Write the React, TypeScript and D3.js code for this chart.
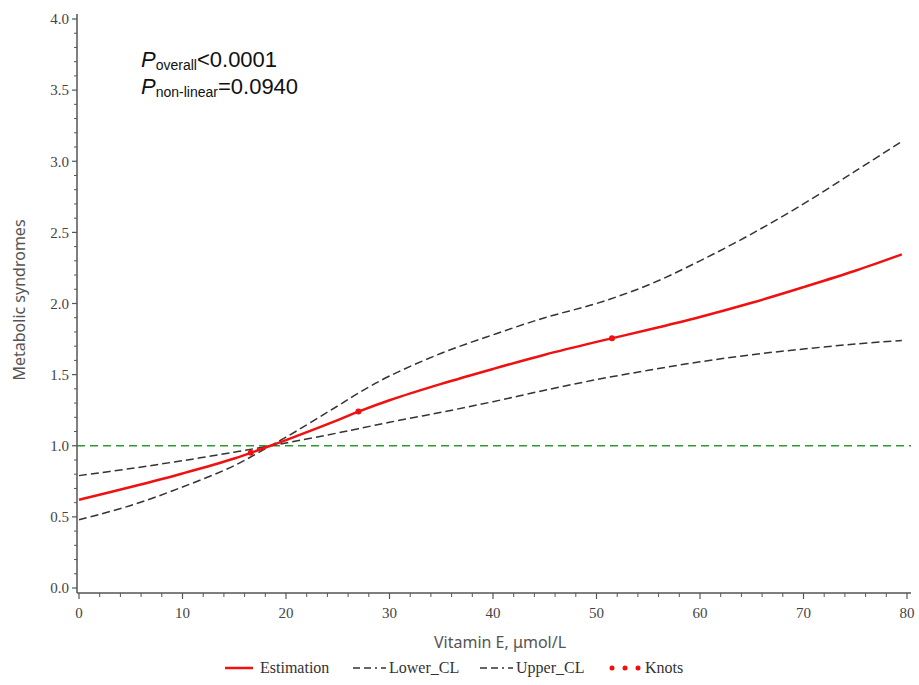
import React from "react";
import * as d3 from "d3";

// values
const xs = [0, 5, 10, 15, 18.5, 20, 25, 27, 30, 35, 40, 45, 50, 55, 60, 65, 70, 75, 79.5];
const estimation = [0.62, 0.71, 0.805, 0.91, 1.0, 1.04, 1.18, 1.24, 1.32, 1.435, 1.54, 1.64, 1.73, 1.815, 1.905, 2.005, 2.115, 2.23, 2.345];
const lowerCL = [0.79, 0.84, 0.895, 0.955, 1.0, 1.02, 1.09, 1.12, 1.165, 1.235, 1.31, 1.39, 1.465, 1.53, 1.59, 1.64, 1.68, 1.715, 1.74];
const upperCL = [0.48, 0.58, 0.71, 0.86, 1.0, 1.06, 1.28, 1.37, 1.49, 1.65, 1.78, 1.9, 2.0, 2.13, 2.3, 2.49, 2.7, 2.93, 3.14];
const knotX = [16.6, 27, 51.5];
const knotY = [0.95, 1.24, 1.755];
const xTicks = [0, 10, 20, 30, 40, 50, 60, 70, 80];
const yTicks = [0, 0.5, 1, 1.5, 2, 2.5, 3, 3.5, 4];
const refLine = 1.0;

const W = 919;
const H = 685;

const App = () => {
  const x = d3.scaleLinear().domain([0, 80]).range([79, 907]);
  const y = d3.scaleLinear().domain([0, 4]).range([588, 19]);
  const axisX = 77; // y axis line position
  const axisY = 593; // x axis line position

  const line = d3
    .line<number>()
    .x((_, i) => x(xs[i]))
    .y((d) => y(d))
    .curve(d3.curveCatmullRom.alpha(0.5));

  const xMinor = d3.range(0, 80.01, 2).filter((v) => v % 10 !== 0);
  const yMinor = d3.range(0, 40.01, 1).map((v) => v / 10).filter((v) => Math.round(v * 10) % 5 !== 0);

  const serif = "'Liberation Serif', 'Times New Roman', serif";
  const sans = "'Noto Sans', 'Open Sans', sans-serif";
  const pFont = "'Liberation Sans', Arial, sans-serif";
  const axisCol = "#555";

  return (
    <div style={{ position: "absolute", left: 0, top: 0 }}>
      <svg width={W} height={H} style={{ display: "block", background: "#fff" }}>
        {/* reference line */}
        <line x1={axisX} x2={911} y1={y(refLine)} y2={y(refLine)} stroke="#2e9a2e" strokeWidth={1.5} strokeDasharray="8,5" />

        {/* confidence limits */}
        <path d={line(lowerCL) || ""} fill="none" stroke="#333" strokeWidth={1.5} strokeDasharray="8,4" />
        <path d={line(upperCL) || ""} fill="none" stroke="#333" strokeWidth={1.5} strokeDasharray="8,4" />
        <path d={line(estimation) || ""} fill="none" stroke="#f01010" strokeWidth={2.5} />
        {knotX.map((k, i) => (
          <circle key={k} cx={x(k)} cy={y(knotY[i])} r={3} fill="#f01010" />
        ))}

        {/* y axis */}
        <line x1={axisX} x2={axisX} y1={14} y2={axisY} stroke={axisCol} strokeWidth={1.5} />
        {yTicks.map((t) => (
          <g key={t}>
            <line x1={axisX - 5} x2={axisX} y1={y(t)} y2={y(t)} stroke={axisCol} strokeWidth={1.2} />
            <text x={69} y={y(t)} dy="0.35em" textAnchor="end" fontFamily={serif} fontSize={15} fill="#444">
              {t.toFixed(1)}
            </text>
          </g>
        ))}
        {yMinor.map((t) => (
          <line key={t} x1={axisX - 3} x2={axisX} y1={y(t)} y2={y(t)} stroke={axisCol} strokeWidth={1} />
        ))}

        {/* x axis */}
        <line x1={axisX} x2={911} y1={axisY} y2={axisY} stroke={axisCol} strokeWidth={1.5} />
        {xTicks.map((t) => (
          <g key={t}>
            <line x1={x(t)} x2={x(t)} y1={axisY} y2={axisY + 6} stroke={axisCol} strokeWidth={1.2} />
            <text x={x(t)} y={618} textAnchor="middle" fontFamily={serif} fontSize={15} fill="#444">
              {t}
            </text>
          </g>
        ))}
        {xMinor.map((t) => (
          <line key={t} x1={x(t)} x2={x(t)} y1={axisY} y2={axisY + 4} stroke={axisCol} strokeWidth={1} />
        ))}

        {/* axis titles */}
        <text x={500} y={648} textAnchor="middle" fontFamily={sans} fontSize={16} fill="#555">
          Vitamin E, μmol/L
        </text>
        <text
          transform="translate(25,300) rotate(-90)"
          textAnchor="middle"
          fontFamily={sans}
          fontSize={16}
          fill="#555"
        >
          Metabolic syndromes
        </text>

        {/* P values */}
        <text x={141} y={67} fontFamily={pFont} fontSize={22} fill="#111">
          <tspan fontStyle="italic">P</tspan>
          <tspan fontSize={14} dy={3}>overall</tspan>
          <tspan dy={-3}>{"<0.0001"}</tspan>
        </text>
        <text x={141} y={94} fontFamily={pFont} fontSize={22} fill="#111">
          <tspan fontStyle="italic">P</tspan>
          <tspan fontSize={14} dy={3}>non-linear</tspan>
          <tspan dy={-3}>=0.0940</tspan>
        </text>

        {/* legend */}
        <g fontFamily={serif} fontSize={16} fill="#333">
          <line x1={225} x2={253} y1={668} y2={668} stroke="#f01010" strokeWidth={2.5} />
          <text x={260} y={673}>Estimation</text>
          <line x1={353} x2={386} y1={668} y2={668} stroke="#333" strokeWidth={1.5} strokeDasharray="7,4,7,4,2,4" />
          <text x={389} y={673}>Lower_CL</text>
          <line x1={480} x2={513} y1={668} y2={668} stroke="#333" strokeWidth={1.5} strokeDasharray="7,4,7,4,2,4" />
          <text x={516} y={673}>Upper_CL</text>
          {[612, 625, 638].map((cx) => (
            <circle key={cx} cx={cx} cy={668} r={2.5} fill="#f01010" />
          ))}
          <text x={645} y={673}>Knots</text>
        </g>
      </svg>
    </div>
  );
};

export default App;
